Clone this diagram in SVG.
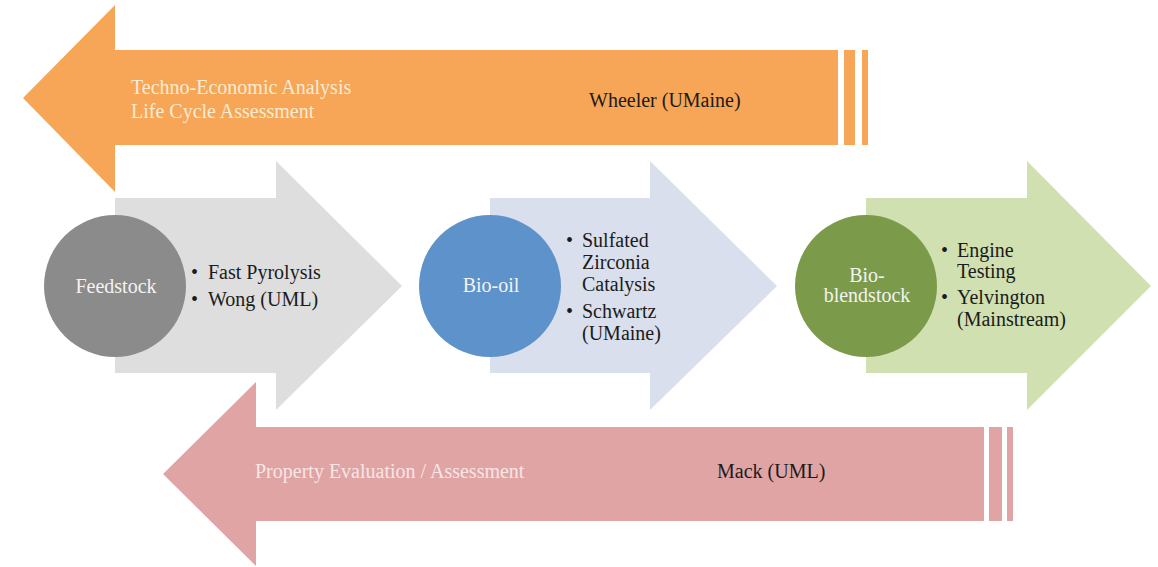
<svg xmlns="http://www.w3.org/2000/svg" width="1158" height="567" viewBox="0 0 1158 567">
<style>
text{font-family:"Liberation Serif","Times New Roman",serif;font-size:20px}
.dk{fill:#1b1b1b}
.lt{fill:#f3f3f3}
.cr{fill:#fdebd3}
.pk{fill:#f7e6e6}
.c{text-anchor:middle}
</style>
<rect width="1158" height="567" fill="#ffffff"/>
<g id="connectors">
<g id="tea-arrow">
<polygon points="23,98 115,5 115,50 838,50 838,145 115,145 115,192" fill="#f6a656"/>
<rect x="844" y="50" width="11" height="95" fill="#f6a656"/>
<rect x="862" y="50" width="6" height="95" fill="#f6a656"/>
<text class="cr" x="131" y="94">Techno-Economic Analysis</text>
<text class="cr" x="131" y="118">Life Cycle Assessment</text>
<text class="dk" x="589" y="107">Wheeler (UMaine)</text>
</g>
<g id="property-arrow">
<polygon points="163,474 256,382 256,427 984,427 984,521 256,521 256,566" fill="#e0a4a4"/>
<rect x="989" y="427" width="13" height="94" fill="#e0a4a4"/>
<rect x="1007" y="427" width="6" height="94" fill="#e0a4a4"/>
<text class="pk" x="255" y="478">Property Evaluation / Assessment</text>
<text class="dk" x="717" y="478">Mack (UML)</text>
</g>
</g>
<g id="feedstock">
<polygon points="115,198 276,198 276,161 402,286 276,410 276,373 115,373" fill="#dedede"/>
<circle cx="115" cy="286" r="71" fill="#8b8b8b"/>
<text class="lt c" x="116" y="293">Feedstock</text>
<text class="dk" x="191" y="279">•</text>
<text class="dk" x="208" y="279">Fast Pyrolysis</text>
<text class="dk" x="191" y="306">•</text>
<text class="dk" x="208" y="306">Wong (UML)</text>
</g>
<g id="bio-oil">
<polygon points="490,198 650,198 650,161 777,286 650,410 650,373 490,373" fill="#d9dfec"/>
<circle cx="490" cy="286" r="71" fill="#5d92ca"/>
<text class="lt c" x="491" y="292">Bio-oil</text>
<text class="dk" x="566" y="247">•</text>
<text class="dk" x="582" y="247">Sulfated</text>
<text class="dk" x="582" y="269">Zirconia</text>
<text class="dk" x="582" y="291">Catalysis</text>
<text class="dk" x="566" y="318">•</text>
<text class="dk" x="582" y="318">Schwartz</text>
<text class="dk" x="582" y="340">(UMaine)</text>
</g>
<g id="bio-blendstock">
<polygon points="866,198 1027,198 1027,161 1151,286 1027,410 1027,373 866,373" fill="#d0e0b0"/>
<circle cx="866" cy="286" r="71" fill="#7b9a4a"/>
<text class="lt c" x="867" y="282">Bio-</text>
<text class="lt c" x="867" y="302">blendstock</text>
<text class="dk" x="941" y="257">•</text>
<text class="dk" x="957" y="257">Engine</text>
<text class="dk" x="957" y="278">Testing</text>
<text class="dk" x="941" y="304">•</text>
<text class="dk" x="957" y="304">Yelvington</text>
<text class="dk" x="957" y="326">(Mainstream)</text>
</g>
</svg>
